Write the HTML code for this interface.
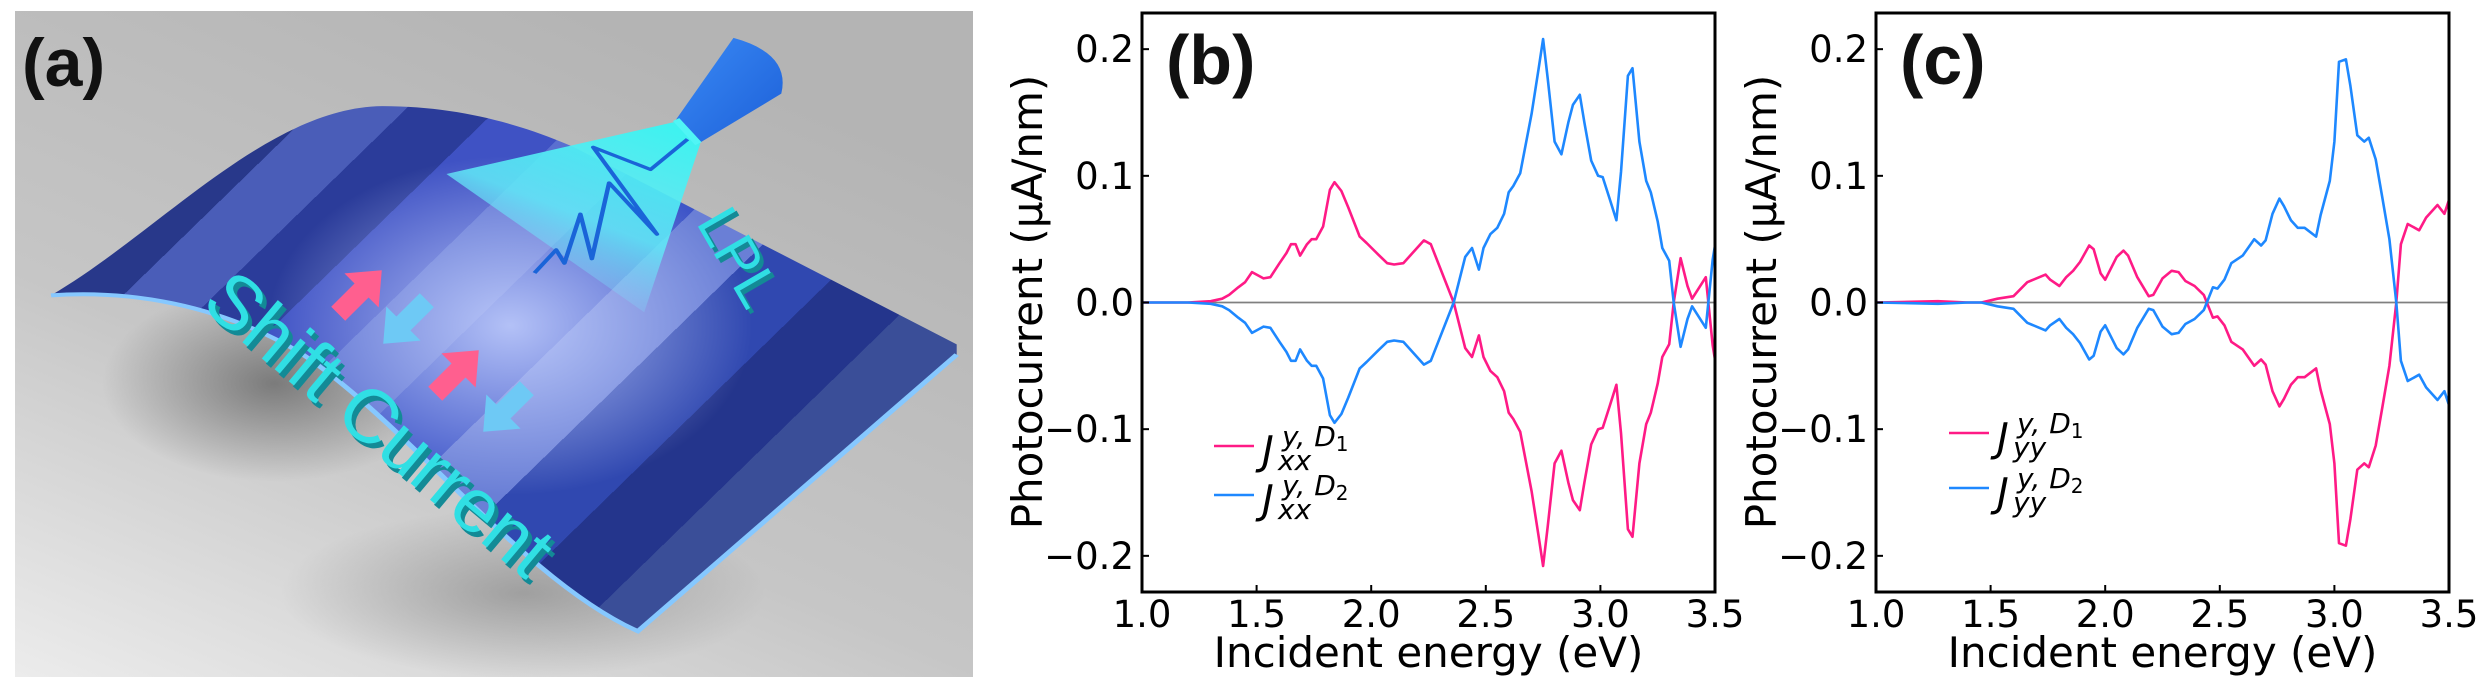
<!DOCTYPE html>
<html><head><meta charset="utf-8">
<style>
html,body{margin:0;padding:0;background:#fff;}
body{width:2480px;height:687px;position:relative;overflow:hidden;font-family:"DejaVu Sans","Liberation Sans",sans-serif;}
svg{position:absolute;left:0;top:0;}
</style></head>
<body>
<svg id="panelA" width="1000" height="687" viewBox="0 0 1000 687">
  <defs>
    <linearGradient id="bgG" x1="0" y1="1" x2="0.6" y2="0">
      <stop offset="0" stop-color="#ececec"/><stop offset="0.45" stop-color="#c6c6c6"/><stop offset="1" stop-color="#b4b4b4"/>
    </linearGradient>
    <radialGradient id="shadowG" cx="0.5" cy="0.5" r="0.5">
      <stop offset="0" stop-color="#505050" stop-opacity="0.85"/><stop offset="1" stop-color="#505050" stop-opacity="0"/>
    </radialGradient>
    <linearGradient id="stripeG" gradientUnits="userSpaceOnUse" x1="150" y1="380" x2="1500" y2="1350">
      <stop offset="0" stop-color="#5a6aa8"/><stop offset="0.06" stop-color="#5a6aa8"/>
      <stop offset="0.06" stop-color="#28388a"/><stop offset="0.12" stop-color="#28388a"/>
      <stop offset="0.12" stop-color="#4a5db8"/><stop offset="0.19" stop-color="#4a5db8"/>
      <stop offset="0.19" stop-color="#2b3c9a"/><stop offset="0.26" stop-color="#2b3c9a"/>
      <stop offset="0.26" stop-color="#3f52c4"/><stop offset="0.33" stop-color="#3f52c4"/>
      <stop offset="0.33" stop-color="#5a6fd0"/><stop offset="0.41" stop-color="#5a6fd0"/>
      <stop offset="0.41" stop-color="#3e55c8"/><stop offset="0.49" stop-color="#3e55c8"/>
      <stop offset="0.49" stop-color="#6a7fd6"/><stop offset="0.57" stop-color="#6a7fd6"/>
      <stop offset="0.57" stop-color="#3048b0"/><stop offset="0.65" stop-color="#3048b0"/>
      <stop offset="0.65" stop-color="#24358c"/><stop offset="0.73" stop-color="#24358c"/>
      <stop offset="0.73" stop-color="#3a4e98"/><stop offset="0.82" stop-color="#3a4e98"/>
      <stop offset="0.82" stop-color="#2a3a80"/><stop offset="0.9" stop-color="#2a3a80"/>
      <stop offset="0.9" stop-color="#1a2760"/><stop offset="1" stop-color="#1a2760"/>
    </linearGradient>
    <radialGradient id="glowG" gradientUnits="userSpaceOnUse" cx="800" cy="730" r="380">
      <stop offset="0" stop-color="#c8d4ff" stop-opacity="0.85"/><stop offset="1" stop-color="#c8d4ff" stop-opacity="0"/>
    </radialGradient>
    <linearGradient id="beamG" gradientUnits="userSpaceOnUse" x1="1070" y1="300" x2="860" y2="680">
      <stop offset="0" stop-color="#3ff2f0" stop-opacity="1"/><stop offset="0.55" stop-color="#60eaf8" stop-opacity="0.85"/><stop offset="1" stop-color="#8ad8ff" stop-opacity="0"/>
    </linearGradient>
    <linearGradient id="coneG" x1="0" y1="0" x2="1" y2="1">
      <stop offset="0" stop-color="#3a8af5"/><stop offset="1" stop-color="#1c5fd8"/>
    </linearGradient>
    <clipPath id="sheetClip"><path d="M80,662 C250,520 420,240 600,238 C720,238 820,280 900,330 L1500,772 L1500,795 L1000,1415 C820,1300 640,950 470,790 C340,680 200,650 80,662 Z"/></clipPath>
  </defs>
  <rect x="15" y="11" width="958" height="666" fill="url(#bgG)"/>
  <g transform="scale(0.6378,0.4461)">
    <ellipse cx="430" cy="860" rx="270" ry="220" fill="url(#shadowG)" opacity="0.75"/>
    <ellipse cx="820" cy="1330" rx="380" ry="190" fill="url(#shadowG)" opacity="0.45"/>
    <path d="M80,662 C250,520 420,240 600,238 C720,238 820,280 900,330 L1500,772 L1500,795 L1000,1415 C820,1300 640,950 470,790 C340,680 200,650 80,662 Z" fill="url(#stripeG)"/>
    <rect x="0" y="0" width="1568" height="1540" fill="url(#glowG)" clip-path="url(#sheetClip)"/>
    <path d="M80,662 C200,650 340,680 470,790 C640,950 820,1300 1000,1415 L1500,795" fill="none" stroke="#86c8ff" stroke-width="9"/>
    <path d="M1062,272 L1098,322 L1010,700 L700,390 Z" fill="url(#beamG)"/>
    <path d="M1060,268 L1150,85 Q1240,120 1225,210 L1095,322 Z" fill="url(#coneG)"/>
    <path d="M1060,268 L1095,322" stroke="#50f5f5" stroke-width="12"/>
    <path d="M838,612 L872,560 L885,590 L910,480 L928,580 L955,410 L1030,525 L930,330 L1020,380 L1078,312" fill="none" stroke="#1a64d8" stroke-width="7" stroke-linejoin="round"/>
  </g>
  <g>
    <polygon transform="translate(360,292) rotate(-45) scale(1.1)" points="-28,-9 2,-9 2,-22 28,0 2,22 2,9 -28,9" fill="#ff5f8f"/>
    <polygon transform="translate(405,322) rotate(135) scale(1.1)" points="-28,-9 2,-9 2,-22 28,0 2,22 2,9 -28,9" fill="#6ec9f5"/>
    <polygon transform="translate(457,372) rotate(-45) scale(1.1)" points="-28,-9 2,-9 2,-22 28,0 2,22 2,9 -28,9" fill="#ff5f8f"/>
    <polygon transform="translate(505,410) rotate(135) scale(1.1)" points="-28,-9 2,-9 2,-22 28,0 2,22 2,9 -28,9" fill="#6ec9f5"/>
  </g>
  <text transform="translate(384,428) rotate(40)" text-anchor="middle" dy="0.35em" font-family="Liberation Sans, sans-serif" font-size="76" fill="#138a96">Shift Current</text>
  <text transform="translate(380,423) rotate(40)" text-anchor="middle" dy="0.35em" font-family="Liberation Sans, sans-serif" font-size="76" fill="#30dfe4">Shift Current</text>
  <text transform="translate(743,261) rotate(60)" text-anchor="middle" dy="0.35em" font-family="Liberation Sans, sans-serif" font-size="58" fill="#138a96">LPL</text>
  <text transform="translate(739,257) rotate(60)" text-anchor="middle" dy="0.35em" font-family="Liberation Sans, sans-serif" font-size="58" fill="#30dfe4">LPL</text>
  <text x="22" y="86" font-family="Liberation Sans, sans-serif" font-weight="bold" font-size="68" fill="#111">(a)</text>
</svg>

<svg id="charts" width="2480" height="687" viewBox="0 0 2480 687" style="left:0;top:0;"></svg>

<script>
// Panel (b) data
const energyB = [1.0,1.2,1.3,1.35,1.38,1.42,1.45,1.48,1.53,1.56,1.6,1.63,1.65,1.67,1.69,1.72,1.74,1.76,1.79,1.82,1.84,1.87,1.90,1.95,1.98,2.03,2.07,2.10,2.14,2.23,2.26,2.36,2.41,2.44,2.47,2.49,2.52,2.55,2.58,2.60,2.62,2.65,2.67,2.70,2.73,2.75,2.77,2.80,2.83,2.86,2.88,2.91,2.93,2.96,2.99,3.01,3.04,3.07,3.09,3.12,3.14,3.17,3.20,3.22,3.25,3.27,3.30,3.32,3.35,3.38,3.40,3.46,3.49,3.5];
const jxxD1 = [0,0,0.001,0.003,0.006,0.012,0.016,0.024,0.019,0.020,0.031,0.039,0.046,0.046,0.037,0.046,0.050,0.050,0.060,0.089,0.095,0.088,0.075,0.052,0.047,0.038,0.031,0.030,0.031,0.049,0.046,0,-0.036,-0.043,-0.026,-0.043,-0.054,-0.059,-0.070,-0.087,-0.092,-0.102,-0.121,-0.149,-0.184,-0.208,-0.177,-0.127,-0.117,-0.142,-0.156,-0.164,-0.142,-0.112,-0.100,-0.099,-0.082,-0.065,-0.103,-0.179,-0.185,-0.127,-0.096,-0.087,-0.064,-0.043,-0.033,0,0.035,0.013,0.003,0.020,-0.034,-0.045];
const jxxD2 = [0,0,-0.001,-0.003,-0.006,-0.012,-0.016,-0.024,-0.019,-0.020,-0.031,-0.039,-0.046,-0.046,-0.037,-0.046,-0.050,-0.050,-0.060,-0.089,-0.095,-0.088,-0.075,-0.052,-0.047,-0.038,-0.031,-0.030,-0.031,-0.049,-0.046,0,0.036,0.043,0.026,0.043,0.054,0.059,0.070,0.087,0.092,0.102,0.121,0.149,0.184,0.208,0.177,0.127,0.117,0.142,0.156,0.164,0.142,0.112,0.100,0.099,0.082,0.065,0.103,0.179,0.185,0.127,0.096,0.087,0.064,0.043,0.033,0,-0.035,-0.013,-0.003,-0.020,0.034,0.045];
// Panel (c) data
const energyC = [1.0,1.27,1.40,1.46,1.53,1.60,1.66,1.74,1.76,1.80,1.83,1.86,1.89,1.93,1.95,1.98,2.00,2.05,2.08,2.10,2.14,2.19,2.21,2.25,2.29,2.32,2.35,2.39,2.43,2.47,2.49,2.52,2.55,2.60,2.65,2.68,2.70,2.73,2.76,2.78,2.81,2.84,2.87,2.92,2.94,2.98,3.00,3.02,3.05,3.07,3.10,3.13,3.15,3.18,3.21,3.24,3.27,3.29,3.32,3.37,3.40,3.45,3.48,3.50];
const jyyD1 = [0,0.001,0,0,0.003,0.005,0.016,0.022,0.018,0.013,0.020,0.025,0.032,0.045,0.042,0.023,0.018,0.036,0.041,0.037,0.020,0.005,0.006,0.019,0.025,0.024,0.017,0.013,0.006,-0.012,-0.011,-0.018,-0.031,-0.037,-0.050,-0.045,-0.049,-0.070,-0.082,-0.076,-0.065,-0.059,-0.059,-0.052,-0.069,-0.096,-0.127,-0.190,-0.192,-0.171,-0.132,-0.127,-0.130,-0.113,-0.082,-0.050,0,0.046,0.062,0.057,0.067,0.077,0.070,0.081];
const jyyD2 = [0,-0.001,0,0,-0.003,-0.005,-0.016,-0.022,-0.018,-0.013,-0.020,-0.025,-0.032,-0.045,-0.042,-0.023,-0.018,-0.036,-0.041,-0.037,-0.020,-0.005,-0.006,-0.019,-0.025,-0.024,-0.017,-0.013,-0.006,0.012,0.011,0.018,0.031,0.037,0.050,0.045,0.049,0.070,0.082,0.076,0.065,0.059,0.059,0.052,0.069,0.096,0.127,0.190,0.192,0.171,0.132,0.127,0.130,0.113,0.082,0.050,0,-0.046,-0.062,-0.057,-0.067,-0.077,-0.070,-0.081];
const xTicks = [1.0,1.5,2.0,2.5,3.0,3.5];
const xTickLabels = ["1.0","1.5","2.0","2.5","3.0","3.5"];
const yTicks = [-0.2,-0.1,0.0,0.1,0.2];
const yTickLabels = ["\u22120.2","\u22120.1","0.0","0.1","0.2"];

const NS = "http://www.w3.org/2000/svg";
const root = document.getElementById("charts");
const PINK = "#ff1a86", BLUE = "#1e88ff";

function mk(tag, attrs, parent) {
  const e = document.createElementNS(NS, tag);
  for (const k in attrs) e.setAttribute(k, attrs[k]);
  parent.appendChild(e);
  return e;
}

function drawPanel(p) {
  const g = mk("g", {}, root);
  
  
  const L = p.left, R = p.left + 573, T = 13, B = 592;
  const yZero = 302.5, yScale = 1266.7;
  const sx = v => L + (v - 1.0) / 2.5 * (R - L);
  const sy = v => yZero - v * yScale;

  const zl = mk("line", {x1: L, x2: R, y1: sy(0), y2: sy(0), stroke: "#808080", "stroke-width": 1.8}, g);
  
  

  const series = [[p.e, p.d1, PINK, p.key + "-d1-line"], [p.e, p.d2, BLUE, p.key + "-d2-line"]];
  series.forEach(s => {
    let d = "";
    s[0].forEach((x, i) => { d += (i ? "L" : "M") + sx(x).toFixed(1) + "," + sy(s[1][i]).toFixed(1); });
    const path = mk("path", {d: d, fill: "none", stroke: s[2], "stroke-width": 2.6, "stroke-linejoin": "round"}, g);
    
    
  });

  const fr = mk("rect", {x: L, y: T, width: R - L, height: B - T, fill: "none", stroke: "#000", "stroke-width": 3}, g);
  
  

  xTicks.forEach((t, i) => {
    const x = sx(t);
    const tk = mk("line", {x1: x, x2: x, y1: B, y2: B - 7, stroke: "#000", "stroke-width": 2}, g);
    
    
    const tl = mk("text", {x: x, y: 627, "text-anchor": "middle", "font-size": 37, fill: "#000"}, g);
    tl.textContent = xTickLabels[i];
    
    
  });
  yTicks.forEach((t, i) => {
    const y = sy(t);
    const tk = mk("line", {x1: L, x2: L + 7, y1: y, y2: y, stroke: "#000", "stroke-width": 2}, g);
    
    
    const tl = mk("text", {x: L - 8, y: y + 13, "text-anchor": "end", "font-size": 37, fill: "#000"}, g);
    tl.textContent = yTickLabels[i];
    
    
  });

  const xt = mk("text", {x: (L + R) / 2, y: 667, "text-anchor": "middle", "font-size": 42, fill: "#000"}, g);
  xt.textContent = "Incident energy (eV)";
  
  
  const yt = mk("text", {x: 0, y: 0, "text-anchor": "middle", "font-size": 42, fill: "#000", transform: "translate(" + p.ylabX + ",302) rotate(-90)"}, g);
  yt.textContent = "Photocurrent (\u03bcA/nm)";
  
  

  const pl = mk("text", {x: L + 24, y: 84, "font-family": "Liberation Sans, sans-serif", "font-weight": "bold", "font-size": 70, fill: "#111"}, g);
  pl.textContent = p.label;
  
  

  [[PINK, "1", p.legY1], [BLUE, "2", p.legY2]].forEach(lg => {
    const lx = p.legX, ly = lg[2];
    const ln = mk("line", {x1: lx, x2: lx + 40, y1: ly, y2: ly, stroke: lg[0], "stroke-width": 2.6}, g);
    
    
    const txt = mk("text", {x: lx + 48, y: ly + 18, "font-size": 40, "font-style": "italic", fill: "#000"}, g);
    
    
    const j = mk("tspan", {}, txt); j.textContent = "J";
    const sup = mk("tspan", {x: lx + 68, y: ly, "font-size": 28}, txt); sup.textContent = "y, D";
    const one = mk("tspan", {y: ly + 5, "font-size": 20, "font-style": "normal"}, txt); one.textContent = lg[1];
    const sub = mk("tspan", {x: lx + 64, y: ly + 24, "font-size": 28}, txt); sub.textContent = p.sub;
  });
}

drawPanel({name: "chart-b", key: "jxx", label: "(b)", left: 1142, e: energyB, d1: jxxD1, d2: jxxD2, ylabX: 1042, legX: 1214, legY1: 446, legY2: 495, sub: "xx"});
drawPanel({name: "chart-c", key: "jyy", label: "(c)", left: 1876, e: energyC, d1: jyyD1, d2: jyyD2, ylabX: 1776, legX: 1949, legY1: 433, legY2: 488, sub: "yy"});
</script>
</body></html>
